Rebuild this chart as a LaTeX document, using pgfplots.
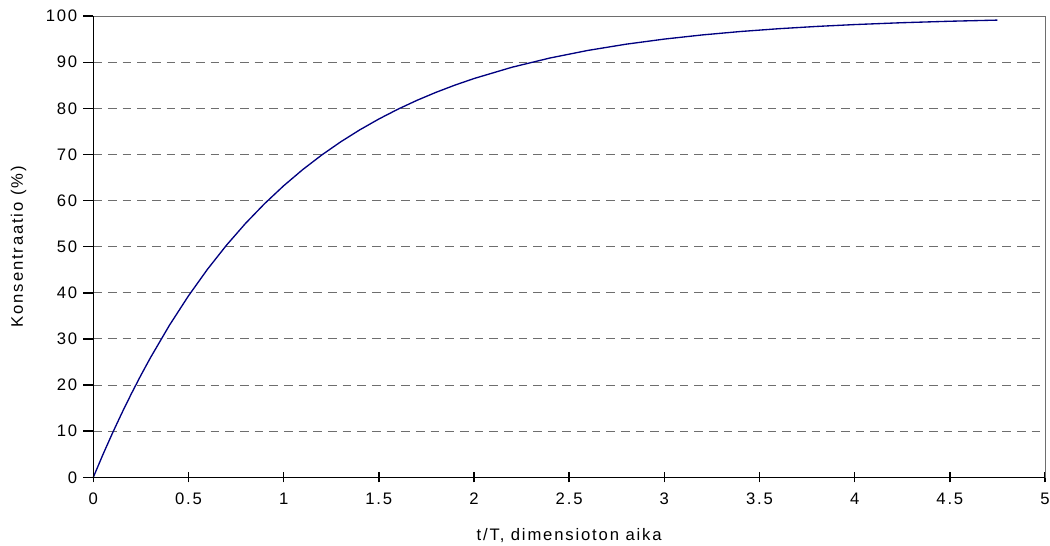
\documentclass[border=0pt]{standalone}
\usepackage{fontspec}
\setmainfont{Liberation Sans}[LetterSpace=11]
\usepackage{pgfplots}
\pgfplotsset{compat=1.18}
\definecolor{curve}{RGB}{0,0,128}
\definecolor{gridc}{RGB}{110,110,110}
\begin{document}
\begin{tikzpicture}
\useasboundingbox (-70pt,-51pt) rectangle (717.75pt,358.1pt);
\begin{axis}[
  scale only axis,
  width=714pt, height=346pt,
  xmin=0, xmax=5, ymin=0, ymax=100,
  xtick={0,0.5,...,5}, ytick={0,10,...,100},
  xticklabels={0,0.5,1,1.5,2,2.5,3,3.5,4,4.5,5},
  yticklabels={0,10,20,30,40,50,60,70,80,90,100},
  xtick pos=bottom, ytick pos=left,
  axis line style={gridc, line width=0.75pt},
  tick align=outside,
  major tick style={black, line width=1.1pt},
  major tick length=7.5pt,
  xtick style={yshift=3.75pt},
  xticklabel style={font=\fontsize{12.5pt}{14pt}\selectfont, yshift=-1pt},
  yticklabel style={font=\fontsize{12.5pt}{14pt}\selectfont, xshift=-1pt},
  ymajorgrids,
  major grid style={gridc, dash pattern=on 6.5pt off 4.5pt, line width=0.75pt},
  xlabel={t/T, dimensioton aika},
  ylabel={Konsentraatio (\%)},
  xlabel style={font=\fontsize{12.5pt}{14pt}\selectfont, at={(axis description cs:0.5,0)}, anchor=center, yshift=-44pt},
  ylabel style={font=\fontsize{12.5pt}{14pt}\selectfont, at={(axis description cs:0,0.5)}, anchor=center, yshift=56pt},
  clip=false,
]
\addplot[curve, line width=1pt, mark=none] coordinates {
(0,0) (0.05,4.877) (0.1,9.516) (0.15,13.929) (0.2,18.127) (0.25,22.120)
(0.3,25.918) (0.4,32.968) (0.5,39.347) (0.6,45.119) (0.7,50.341)
(0.8,55.067) (0.9,59.343) (1.0,63.212) (1.1,66.713) (1.2,69.881)
(1.3,72.747) (1.4,75.340) (1.5,77.687) (1.6,79.810) (1.7,81.732)
(1.8,83.470) (1.9,85.043) (2.0,86.466) (2.2,88.920) (2.4,90.928)
(2.6,92.573) (2.8,93.919) (3.0,95.021) (3.2,95.924) (3.4,96.663)
(3.6,97.268) (3.8,97.763) (4.0,98.168) (4.25,98.574) (4.5,98.889) (4.75,99.135)
};
\draw[black, line width=0.9pt] (rel axis cs:0,1) -- (rel axis cs:0,0) -- (rel axis cs:1,0);
\end{axis}
\end{tikzpicture}
\end{document}
